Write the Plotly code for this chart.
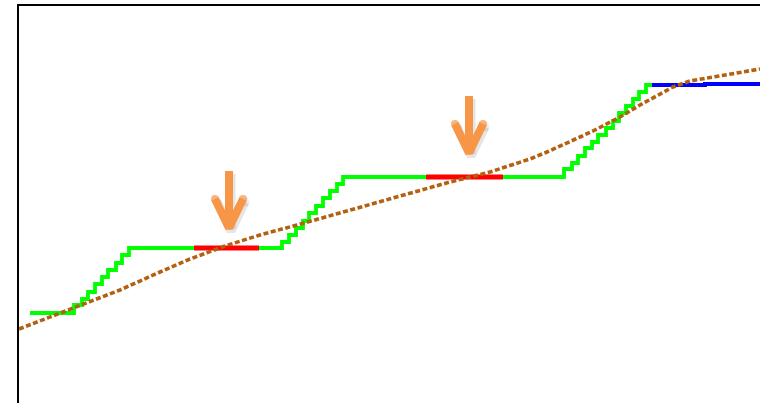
import plotly.graph_objects as go

# ---- data (x in horizontal units, y in vertical units) ----
green_x = [30, 74, 82, 88, 95, 102, 108, 116, 122, 129, 282, 289, 296, 303, 309, 316, 323, 330, 337, 343,
           564, 572, 578, 585, 592, 598, 606, 613, 619, 626, 633, 639, 646, 652]
green_y = [90, 98, 104, 111, 119, 126, 133, 140, 148, 155, 161, 168, 175, 182, 190, 197, 205, 212, 219, 226,
           234, 240, 247, 255, 261, 268, 275, 282, 290, 297, 304, 311, 318, 318]

red1_x = [194, 259]
red1_y = [155, 155]
red2_x = [426, 503]
red2_y = [226, 226]

blue_x = [652, 705, 760]
blue_y = [318, 319, 319]

trend_x = [19, 73, 120, 160, 190, 225, 260, 297, 337, 370, 403, 450, 490, 513, 530, 547, 563, 580, 597,
           620, 640, 663, 673, 690, 723, 760]
trend_y = [74, 95, 113, 131, 144, 157, 168, 178, 189, 199, 208, 221, 231, 238, 244, 251, 258, 266, 274,
           286, 298, 310, 316, 322, 328, 334]

arrow_x = [229, 469]
arrow_top = [232, 307]
arrow_tip = [173, 248]
head_half = 14
head_len = 31

ORANGE = "#F79646"

fig = go.Figure()

fig.add_trace(go.Scatter(x=green_x, y=green_y, mode="lines", line=dict(color="#00FF00", width=3.8, shape="hv"),
                         hoverinfo="skip"))
for rx, ry in [(red1_x, red1_y), (red2_x, red2_y)]:
    fig.add_trace(go.Scatter(x=rx, y=ry, mode="lines", line=dict(color="#FF0000", width=5),
                             hoverinfo="skip"))
fig.add_trace(go.Scatter(x=blue_x, y=blue_y, mode="lines", line=dict(color="#0000FF", width=4, shape="hv"),
                         hoverinfo="skip"))
fig.add_trace(go.Scatter(x=trend_x, y=trend_y, mode="lines",
                         line=dict(color="#B3600F", width=3.6, dash="5px,2.5px"),
                         hoverinfo="skip"))

# arrows (shadow then body)
for ax, top, tip in zip(arrow_x, arrow_top, arrow_tip):
    for dx, dy, col, w in [(2, -3, "rgba(0,0,0,0.10)", 9), (0, 0, ORANGE, 8)]:
        fig.add_trace(go.Scatter(x=[ax + dx, ax + dx], y=[top + dy, tip + 4 + dy], mode="lines",
                                 line=dict(color=col, width=w), hoverinfo="skip"))
        fig.add_trace(go.Scatter(x=[ax - head_half + dx, ax + dx, ax + head_half + dx],
                                 y=[tip + head_len + dy, tip + 2 + dy, tip + head_len + dy],
                                 mode="lines+markers",
                                 line=dict(color=col, width=w),
                                 marker=dict(size=[w, 0, w], color=col, line=dict(width=0)),
                                 hoverinfo="skip"))

fig.update_layout(
    width=760, height=403,
    margin=dict(l=19, r=0, t=6, b=0),
    paper_bgcolor="white", plot_bgcolor="white",
    showlegend=False,
    xaxis=dict(range=[19, 760], side="top", showline=True, linecolor="black", linewidth=2,
               showgrid=False, zeroline=False, showticklabels=False, ticks=""),
    yaxis=dict(range=[0, 397], showline=True, linecolor="black", linewidth=2,
               showgrid=False, zeroline=False, showticklabels=False, ticks=""),
)

fig.write_html("out.html", config={"displayModeBar": False},
               post_script="document.body.style.margin='0';document.body.style.overflow='hidden';")
